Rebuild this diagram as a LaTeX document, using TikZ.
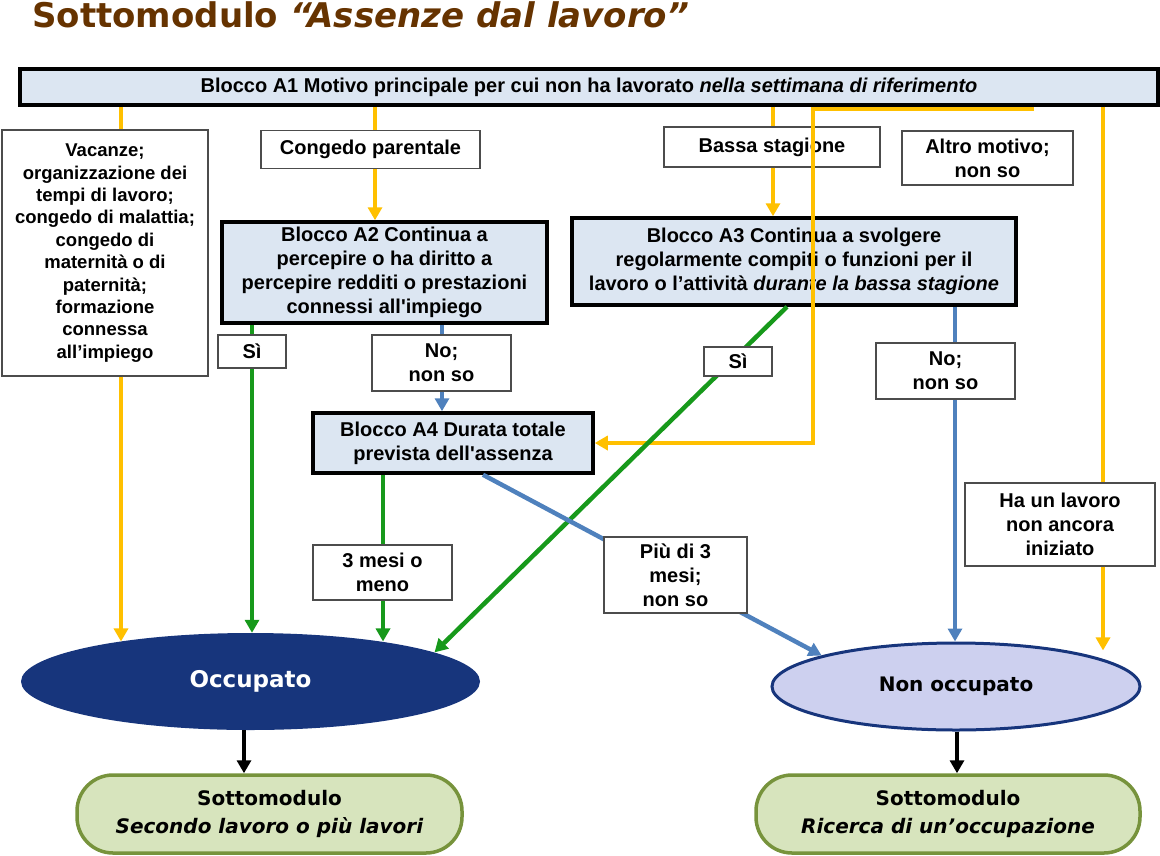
\documentclass[tikz,border=0pt]{standalone}
\usepackage{fontspec}
\setmainfont{Liberation Sans}
\newfontfamily\verdana{DejaVu Sans}
\usetikzlibrary{arrows.meta,shapes.geometric}
\definecolor{marrone}{HTML}{663300}
\definecolor{azzurro}{HTML}{DCE6F2}
\definecolor{giallo}{HTML}{FFC000}
\definecolor{verde}{HTML}{17991B}
\definecolor{blu}{HTML}{4F81BD}
\definecolor{notte}{HTML}{17357C}
\definecolor{lilla}{HTML}{CDD0EF}
\definecolor{salvia}{HTML}{D7E4BD}
\definecolor{oliva}{HTML}{77933C}

\begin{document}
\begin{tikzpicture}[x=1pt, y=-1pt,
  blocco/.style={draw=black, line width=3.5pt, fill=azzurro, align=center, inner sep=2pt, font=\fontsize{20}{24}\selectfont\bfseries},
  voce/.style={draw=black!70, line width=1.3pt, fill=white, align=center, inner sep=2pt, font=\fontsize{20}{24}\selectfont\bfseries},
  esito/.style={ellipse, inner sep=0pt, align=center},
  sotto/.style={draw=oliva, line width=3.5pt, fill=salvia, rounded corners=36pt, align=center, font=\verdana\bfseries\fontsize{20}{28}\selectfont},
  punta/.style={-{Triangle[length=13pt,width=14pt]}},
  yline/.style={draw=giallo, line width=4.5pt},
  yarr/.style={yline, punta},
  garr/.style={draw=verde, line width=4.5pt, punta},
  barr/.style={draw=blu, line width=4.5pt, punta},
  karr/.style={draw=black, line width=4.5pt, punta}
]
\useasboundingbox (0,0) rectangle (1160,855);

% titolo
\node[anchor=base west, inner sep=0pt, text=marrone, font=\verdana\bfseries\fontsize{34}{40}\selectfont] (titolo) at (32,27) {Sottomodulo \textit{“Assenze dal lavoro”}};

% blocchi e risposte
\node[blocco, minimum width=1138pt, minimum height=36pt] (a1) at (589,87) {Blocco A1 Motivo principale per cui non ha lavorato \textit{nella settimana di riferimento}};
\node[voce, minimum width=206pt, minimum height=246pt, font=\fontsize{18.5}{22.4}\selectfont\bfseries] (vac) at (105,253) {Vacanze;\\organizzazione dei\\tempi di lavoro;\\congedo di malattia;\\congedo di\\maternità o di\\paternità;\\formazione\\connessa\\all’impiego};
\node[voce, minimum width=219pt, minimum height=38pt] (cong) at (370.5,149.5) {Congedo parentale};
\node[voce, minimum width=216pt, minimum height=40pt] (bassa) at (772,147) {Bassa stagione};
\node[voce, minimum width=171pt, minimum height=54pt] (altro) at (987.5,158) {Altro motivo;\\non so};
\node[blocco, minimum width=325pt, minimum height=101pt] (a2) at (384.5,272.5) {Blocco A2 Continua a\\percepire o ha diritto a\\percepire redditi o prestazioni\\connessi all\textquotesingle impiego};
\node[blocco, minimum width=444pt, minimum height=87pt] (a3) at (794,261.5) {Blocco A3 Continua a svolgere\\regolarmente compiti o funzioni per il\\lavoro o l’attività \textit{durante la bassa stagione}};
\node[blocco, minimum width=280pt, minimum height=60pt] (a4) at (453,443) {Blocco A4 Durata totale\\prevista dell\textquotesingle assenza};
\node[voce, minimum width=190pt, minimum height=83pt] (ha) at (1060,524.5) {Ha un lavoro\\non ancora\\iniziato};

% esiti
\node[esito, fill=notte, text=white, minimum width=459pt, minimum height=97pt, font=\verdana\bfseries\fontsize{23}{28}\selectfont] (occ) at (250.5,681.5) {Occupato};
\node[esito, draw=notte, line width=3pt, fill=lilla, minimum width=368pt, minimum height=87pt, font=\verdana\bfseries\fontsize{20}{24}\selectfont] (nonocc) at (956,686.5) {Non occupato};
\node[sotto, minimum width=385pt, minimum height=78pt] (sub1) at (269.5,814) {Sottomodulo\\\textit{Secondo lavoro o più lavori}};
\node[sotto, minimum width=384pt, minimum height=78pt] (sub2) at (948,814) {Sottomodulo\\\textit{Ricerca di un’occupazione}};

% canali verticali
\coordinate (cy1) at (121,0);
\coordinate (cy2) at (375,0);
\coordinate (cy3) at (773,0);
\coordinate (cy4) at (813,0);
\coordinate (cy5) at (1034,0);
\coordinate (cy6) at (1103,0);
\coordinate (cg1) at (252,0);
\coordinate (cg2) at (383,0);
\coordinate (cg3) at (787,0);
\coordinate (cb1) at (442,0);
\coordinate (cb2) at (955,0);
\coordinate (cb3) at (483,0);
\coordinate (ck1) at (244,0);
\coordinate (ck2) at (957,0);

% frecce gialle
\draw[yline] (a1.south -| cy1) -- (vac.north -| cy1);
\draw[yarr] (vac.south -| cy1) -- (cy1 |- occ.163);
\draw[yline] (a1.south -| cy2) -- (cong.north -| cy2);
\draw[yarr] (cong.south -| cy2) -- (a2.north -| cy2);
\draw[yline] (a1.south -| cy3) -- (bassa.north -| cy3);
\draw[yarr] (bassa.south -| cy3) -- (a3.north -| cy3);
\draw[yarr] ([yshift=-2pt]a1.south -| cy5) -| (cy4 |- a4.east) -- (a4.east);
\draw[yline] (a1.south -| cy6) -- (ha.north -| cy6);
\draw[yarr] (ha.south -| cy6) -- (cy6 |- nonocc.18);

% frecce verdi
\draw[garr] (a2.south -| cg1) -- (cg1 |- occ.north);
\draw[garr] (a4.south -| cg2) -- (cg2 |- occ.17);
\draw[garr] (a3.south -| cg3) -- (occ.9);

% frecce blu
\draw[barr] (a2.south -| cb1) -- (a4.north -| cb1);
\draw[barr] (a3.south -| cb2) -- (cb2 |- nonocc.north);
\draw[barr] (a4.south -| cb3) -- (nonocc.167);

% frecce nere
\draw[karr] (occ.south -| ck1) -- (sub1.north -| ck1);
\draw[karr] (nonocc.south -| ck2) -- (sub2.north -| ck2);

% etichette sulle frecce
\node[voce, minimum width=68pt, minimum height=33pt] (si2) at (252,351.5) {Sì};
\node[voce, minimum width=139pt, minimum height=56pt] (no2) at (441.5,363) {No;\\non so};
\node[voce, minimum width=68pt, minimum height=29pt] (si3) at (738,361.5) {Sì};
\node[voce, minimum width=139pt, minimum height=56pt] (no3) at (945.5,371) {No;\\non so};
\node[voce, minimum width=139pt, minimum height=55pt] (tre) at (382.5,572.5) {3 mesi o\\meno};
\node[voce, minimum width=143pt, minimum height=76pt] (piu) at (675.5,575) {Più di 3\\mesi;\\non so};
\end{tikzpicture}
\end{document}
